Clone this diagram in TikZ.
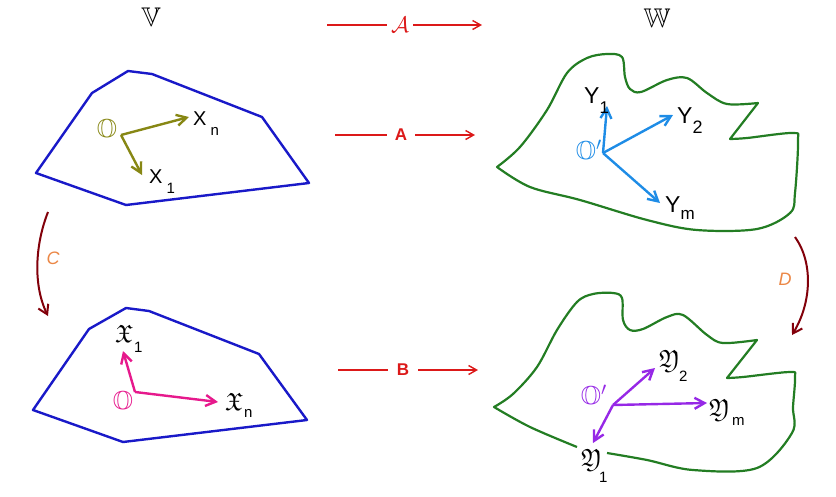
\documentclass[tikz,border=0pt]{standalone}
\usepackage{amssymb}
\usepackage{fontspec}
\setmainfont{Liberation Sans}
\usetikzlibrary{arrows.meta}
\definecolor{polyblue}{RGB}{25,25,200}
\definecolor{shapegreen}{RGB}{35,125,35}
\definecolor{olivevec}{RGB}{135,135,20}
\definecolor{skyvec}{RGB}{30,140,230}
\definecolor{magvec}{RGB}{230,25,140}
\definecolor{purpvec}{RGB}{150,40,230}
\definecolor{mapred}{RGB}{220,25,25}
\definecolor{darkred}{RGB}{130,0,10}
\definecolor{lblorange}{RGB}{235,135,70}
\newcommand{\sublbl}[3]{\kern#2\raisebox{-#1}{\fontsize{15}{15}\selectfont #3}}
\newcommand{\bigmath}[2]{\scalebox{#1}{$#2$}}
\begin{document}
\begin{tikzpicture}[x=1pt,y=-1pt,
  poly/.style={line width=2.4pt, line join=round, draw=polyblue},
  shp/.style={line width=2.2pt, line join=round, draw=shapegreen},
  vec/.style={line width=2.4pt, -{Straight Barb[length=10pt,width=11pt]}},
  maparrow/.style={line width=1.4pt, draw=mapred},
  maptip/.style={-{Straight Barb[length=8pt,width=9pt]}},
  curvearrow/.style={line width=2pt, draw=darkred, -{Straight Barb[length=9pt,width=11pt]}},
  maplbl/.style={text=mapred, inner ysep=0pt, font=\fontsize{17}{17}\selectfont\bfseries},
  lbl/.style={inner sep=0pt, anchor=base west, font=\fontsize{20}{22}\selectfont},
  ylbl/.style={inner sep=0pt, anchor=base west, font=\fontsize{23}{25}\selectfont},
  mathlbl/.style={inner sep=0pt, font=\fontsize{20}{24}\selectfont},
  sidelbl/.style={inner sep=0pt, text=lblorange, font=\fontsize{18}{18}\selectfont\itshape}
]
\useasboundingbox (0,0) rectangle (836,496);

% space titles
\node[mathlbl] (V) at (151,17) {\bigmath{1.35}{\mathbb{V}}};
\node[mathlbl] (W) at (657,18) {\bigmath{1.35}{\mathbb{W}}};

% top-left polygon
\draw[poly] (36,173) -- (92,93) -- (128,71) -- (152,74) -- (262,117) -- (309,183) -- (126,205) -- cycle;
% bottom-left polygon
\draw[poly] (33,410) -- (89,329) -- (126,308) -- (149,311) -- (259,354) -- (307,420) -- (123,442) -- cycle;

% top-right shape
\draw[shp] plot[smooth, tension=0.55] coordinates {(497,167) (520,147) (547,110) (567,73) (587,58) (607,54) (622,57) (625,77) (630,89) (641,92) (667,80) (687,78) (707,93) (727,104) (758,103)}
  -- plot[smooth, tension=0.55] coordinates {(730,139) (747,138) (793,133) (798,141) (795,193) (790,213) (757,229) (697,230) (647,220) (580,200) (530,187) (497,167)} -- cycle;
% bottom-right shape
\draw[shp] plot[smooth, tension=0.55] coordinates {(577,447) (530,427) (494,407)}
  -- plot[smooth, tension=0.55] coordinates {(494,407) (513,394) (537,367) (557,330) (577,302) (593,294) (613,293) (622,298) (623,320) (630,330) (643,329) (667,317) (683,315) (707,335) (723,343) (757,340)}
  -- plot[smooth, tension=0.55] coordinates {(727,378) (743,377) (790,372) (795,377) (793,407) (792,433) (757,468) (693,470) (647,460) (607,453)};

% mapping arrows
\coordinate (aS) at (327,25); \coordinate (aE) at (482,25);
\node[maplbl, inner xsep=4pt] (lAc) at (400,25) {\bigmath{1.3}{\mathcal{A}}};
\draw[maparrow] (aS) -- (lAc);
\draw[maparrow, maptip] (lAc) -- (aE);

\coordinate (bS) at (335,135); \coordinate (bE) at (475,135);
\node[maplbl, inner xsep=8pt] (lA) at (401,135) {A};
\draw[maparrow] (bS) -- (lA);
\draw[maparrow, maptip] (lA) -- (bE);

\coordinate (cS) at (338,370); \coordinate (cE) at (478,370);
\node[maplbl, inner xsep=9pt] (lB) at (403,370) {B};
\draw[maparrow] (cS) -- (lB);
\draw[maparrow, maptip] (lB) -- (cE);

% C and D arrows
\coordinate (Cs) at (48,212); \coordinate (Ce) at (48,316);
\draw[curvearrow] (Cs) .. controls (35,245) and (33,285) .. (Ce);
\node[sidelbl] (lC) at (53,258) {C};
\coordinate (Ds) at (795,237); \coordinate (De) at (792,335);
\draw[curvearrow] (Ds) .. controls (813,262) and (812,302) .. (De);
\node[sidelbl] (lD) at (785,279) {D};

% olive basis
\coordinate (o1) at (121,135); \coordinate (xn) at (189,117); \coordinate (x1) at (142,175);
\draw[vec, draw=olivevec] (o1) -- (xn);
\draw[vec, draw=olivevec] (o1) -- (x1);
\node[mathlbl, text=olivevec] (O1) at (107,131) {\bigmath{1.3}{\mathbb{O}}};
\node[lbl] (Xn) at (193,125) {X\sublbl{10pt}{4pt}{n}};
\node[lbl] (X1) at (149,183) {X\sublbl{10pt}{4pt}{1}};

% sky-blue basis
\coordinate (o2) at (603,153); \coordinate (y1) at (607,106); \coordinate (y2) at (673,115); \coordinate (ym) at (660,203);
\draw[vec, draw=skyvec] (o2) -- (y1);
\draw[vec, draw=skyvec] (o2) -- (y2);
\draw[vec, draw=skyvec] (o2) -- (ym);
\node[mathlbl, text=skyvec] (O2) at (589,152) {\bigmath{1.3}{\mathbb{O}'}};
\node[ylbl] (Y1) at (584,103) {Y\sublbl{10pt}{0pt}{\fontsize{17}{17}\selectfont 1}};
\node[ylbl] (Y2) at (677,123) {Y\sublbl{10pt}{0pt}{\fontsize{18}{18}\selectfont 2}};
\node[ylbl] (Ym) at (665,212) {Y\sublbl{7pt}{0pt}{\fontsize{17}{17}\selectfont m}};

% magenta basis
\coordinate (o3) at (135,392); \coordinate (fx1) at (123,351); \coordinate (fxn) at (218,402);
\draw[vec, draw=magvec] (o3) -- (fx1);
\draw[vec, draw=magvec] (o3) -- (fxn);
\node[mathlbl, text=magvec] (O3) at (123,403) {\bigmath{1.3}{\mathbb{O}}};
\node[lbl] (FX1) at (115,342) {\bigmath{1.25}{\mathfrak{X}}\sublbl{10pt}{1pt}{1}};
\node[lbl] (FXn) at (225,410) {\bigmath{1.25}{\mathfrak{X}}\sublbl{7pt}{1pt}{n}};

% purple basis
\coordinate (o4) at (613,405); \coordinate (fy2) at (655,368); \coordinate (fym) at (707,403); \coordinate (fy1) at (593,443);
\draw[vec, draw=purpvec] (o4) -- (fy2);
\draw[vec, draw=purpvec] (o4) -- (fym);
\draw[vec, draw=purpvec] (o4) -- (fy1);
\node[mathlbl, text=purpvec] (O4) at (594,397) {\bigmath{1.3}{\mathbb{O}'}};
\node[lbl] (FY2) at (659,367) {\bigmath{1.25}{\mathfrak{Y}}\sublbl{14pt}{-1pt}{2}};
\node[lbl] (FYm) at (709,416) {\bigmath{1.25}{\mathfrak{Y}}\sublbl{9pt}{2pt}{m}};
\node[lbl] (FY1) at (581,466) {\bigmath{1.25}{\mathfrak{Y}}\sublbl{16pt}{-3pt}{1}};
\end{tikzpicture}
\end{document}
